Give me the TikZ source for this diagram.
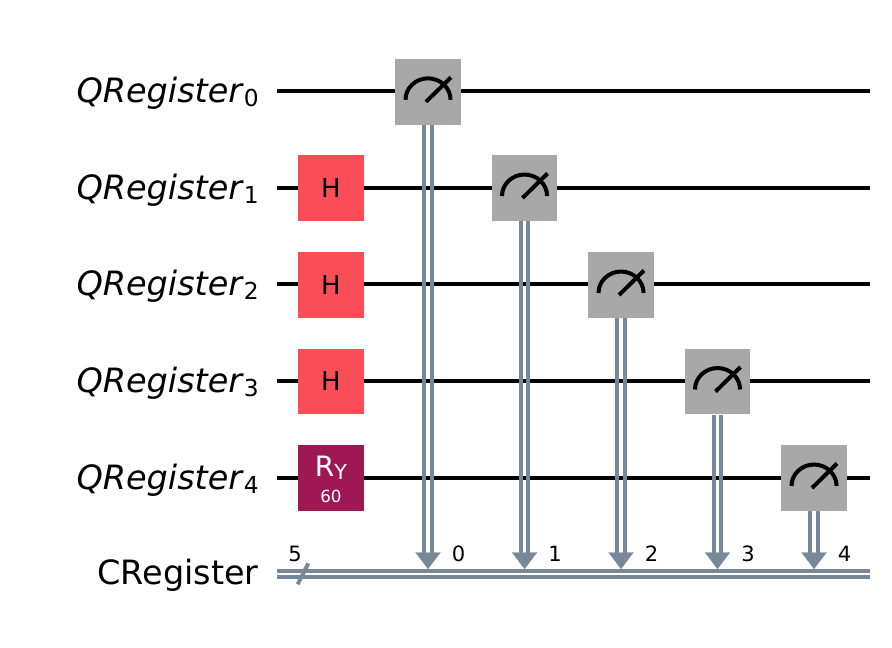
\documentclass[tikz,border=0pt]{standalone}
\usepackage{fontspec}
\setmainfont{DejaVu Sans}
\usetikzlibrary{arrows.meta}
\definecolor{hgate}{HTML}{FA4D56}
\definecolor{rygate}{HTML}{9F1853}
\definecolor{metergate}{HTML}{A8A8A8}
\definecolor{cline}{HTML}{778899}
\newcommand{\regname}[1]{\textit{QRegister}\raisebox{-3pt}{\fontsize{17.5}{17.5}\selectfont #1}}
\tikzstyle{gatebox} = [rectangle, minimum size=49.2pt, inner sep=0pt, font=\fontsize{19.5}{19.5}\selectfont]
\tikzstyle{hbox} = [gatebox, fill=hgate, text=black]
\tikzstyle{rybox} = [gatebox, fill=rygate, text=white, align=center]
\tikzstyle{meterbox} = [gatebox, fill=metergate]
\tikzstyle{reglabel} = [anchor=base east, inner sep=0pt, font=\fontsize{25.1}{25.1}\selectfont]
\tikzstyle{bitlabel} = [inner sep=0pt, font=\fontsize{15.8}{15.8}\selectfont]
\tikzstyle{qwire} = [line width=3pt, black]
\tikzstyle{cbit} = [cline, line width=2.9pt]
\tikzstyle{ctip} = [cline, line width=0.1pt, -{Triangle[width=18.8pt, length=12.4pt]}]
\tikzstyle{needle} = [black, line width=3pt]

\begin{document}
\begin{tikzpicture}[x=0.75pt, y=-0.75pt]
\useasboundingbox (0,0) rectangle (892,647);

% register names
\node[reglabel] (q0) at (259,102) {\regname{0}};
\node[reglabel] (q1) at (259,199) {\regname{1}};
\node[reglabel] (q2) at (259,295.5) {\regname{2}};
\node[reglabel] (q3) at (259,392.5) {\regname{3}};
\node[reglabel] (q4) at (259,489.5) {\regname{4}};
\node[reglabel] (creg) at (259,584) {CRegister};

% wires
\foreach \i/\y in {0/90.8, 1/187.5, 2/284.3, 3/381, 4/478} {
    \coordinate (ws\i) at (277,\y);
    \coordinate (we\i) at (870,\y);
    \draw[qwire] (ws\i) -- (we\i);
}
\coordinate (cs) at (277,574.2);
\coordinate (ce) at (870,574.2);

% gates
\node[hbox] (h1) at (331,188) {H};
\node[hbox] (h2) at (331,285) {H};
\node[hbox] (h3) at (331,381.5) {H};
\node[rybox] (ry) at (331,478) {};
\node[text=white, inner sep=0pt, font=\fontsize{21}{21}\selectfont] (rylabel) at (331,468) {R\raisebox{-2pt}{\fontsize{15.5}{15.5}\selectfont Y}};
\node[text=white, inner sep=0pt, font=\fontsize{12.5}{12.5}\selectfont] (ryangle) at (331,496) {60};

% measurements
\foreach \i/\x/\y in {0/428/91.8, 1/524.5/188, 2/621/285, 3/717.5/381.5, 4/814/478} {
    \node[meterbox] (m\i) at (\x,\y) {};
    \draw[needle] ([shift={(-22.5,8)}]m\i.center) arc[start angle=180, end angle=0, x radius=16.9pt, y radius=16.1pt];
    \draw[needle] ([shift={(-2,10)}]m\i.center) -- ([shift={(23,-14.5)}]m\i.center);
    \coordinate (a\i) at (\x,552.5);
    \coordinate (t\i) at (\x,569);
    \draw[cbit] ([xshift=-2.7pt]m\i.south) -- ([xshift=-2.7pt]a\i);
    \draw[cbit] ([xshift=2.7pt]m\i.south) -- ([xshift=2.7pt]a\i);
    \draw[ctip] (a\i) -- (t\i);
}

% classical register
\draw[cbit] ([yshift=2.2pt]cs) -- ([yshift=2.2pt]ce);
\draw[cbit] ([yshift=-2.2pt]cs) -- ([yshift=-2.2pt]ce);
\coordinate (sa) at (308.3,563.3);
\coordinate (sb) at (297.7,584.3);
\draw[cline, line width=3pt] (sa) -- (sb);
\node[bitlabel] (n5) at (295,554) {5};
\node[bitlabel] (b0) at (458.5,554) {0};
\node[bitlabel] (b1) at (555,554) {1};
\node[bitlabel] (b2) at (651.5,554) {2};
\node[bitlabel] (b3) at (748,554) {3};
\node[bitlabel] (b4) at (844.5,554) {4};
\end{tikzpicture}
\end{document}
